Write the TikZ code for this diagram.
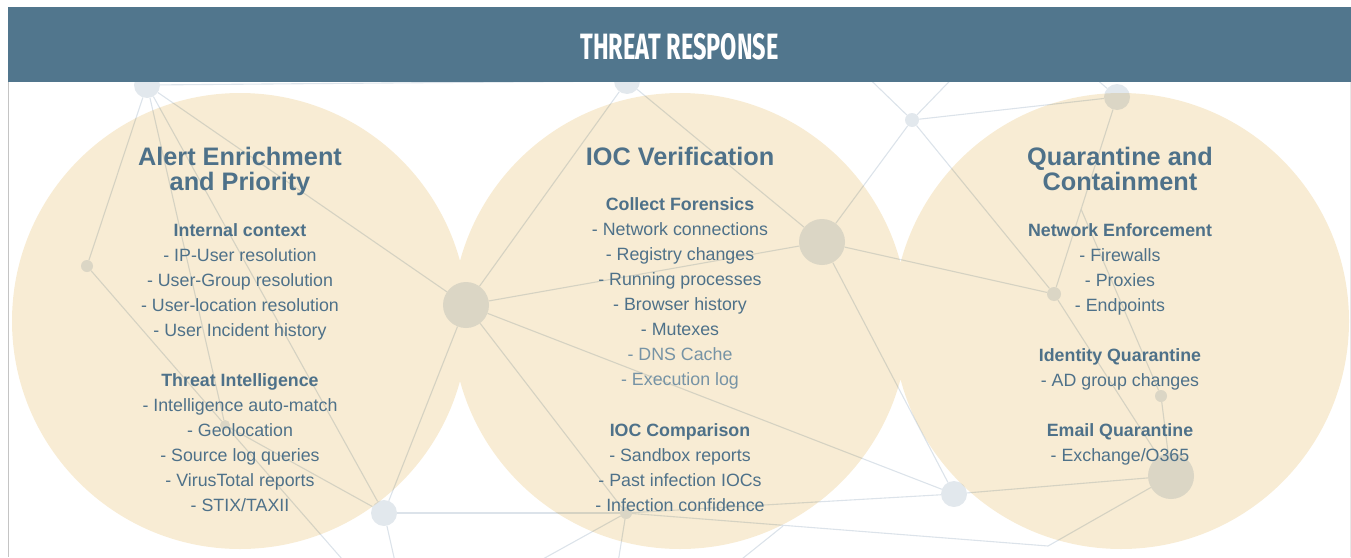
\documentclass[tikz,border=0pt]{standalone}
\usepackage{fontspec}
\setmainfont{Liberation Sans}
\newfontfamily\bannerfont{Fira Sans}
\usepackage{graphicx}
\usetikzlibrary{calc}

\definecolor{banner}{HTML}{51768D}
\definecolor{bubble}{HTML}{F8ECD4}
\definecolor{mesh}{HTML}{DCE3EA}
\definecolor{meshdot}{HTML}{E2E8ED}
\definecolor{ink}{HTML}{4E7189}
\definecolor{inklight}{HTML}{7693A5}
\definecolor{frame}{HTML}{C4C4C4}

\begin{document}
\begin{tikzpicture}[x=1pt, y=-1pt,
    link/.style={mesh, line width=1.1pt},
    hub/.style={circle, fill=meshdot, inner sep=0pt, minimum size=#1},
    head/.style={anchor=base, text=ink, font=\fontsize{25.3}{25}\selectfont\bfseries},
    sub/.style={anchor=base, text=ink, font=\fontsize{17.8}{20}\selectfont\bfseries},
    item/.style={anchor=base, text=ink, font=\fontsize{17.8}{20}\selectfont},
    faded/.style={item, text=inklight}]
    \useasboundingbox (0,0) rectangle (1351,557);

    % Network
    \node[hub=26pt] (n1) at (147,85) {};
    \node[hub=12pt] (n2) at (87,266) {};
    \node[hub=10pt] (n3) at (225,425) {};
    \node[hub=46pt] (n4) at (466,305) {};
    \node[hub=26pt] (n5) at (384,513) {};
    \node[hub=26pt] (n6) at (627,81) {};
    \node[hub=12pt] (n7) at (626,513) {};
    \node[hub=46pt] (n8) at (822,242) {};
    \node[hub=26pt] (n9) at (954,494) {};
    \node[hub=14pt] (n10) at (912,120) {};
    \node[hub=26pt] (n11) at (1117,97) {};
    \node[hub=14pt] (n12) at (1054,294) {};
    \node[hub=12pt] (n13) at (1161,396) {};
    \node[hub=46pt] (n14) at (1171,476) {};
    \coordinate (p1) at (1048,546);
    \coordinate (e1) at (783,526);
    \coordinate (b1) at (356,575);
    \coordinate (b2) at (398,575);
    \coordinate (b3) at (514,575);
    \coordinate (b4) at (616,575);
    \coordinate (b5) at (722,575);
    \coordinate (u1) at (850,60);
    \coordinate (u2) at (970,60);
    \coordinate (u3) at (1080,65);
    \coordinate (q1) at ($(n11)!0.57!(n12)$);

    \draw[link] (n1) -- (n2);
    \draw[link] (n1) -- (n3);
    \draw[link] (n1) -- (n5);
    \draw[link] (n1) -- (n4);
    \draw[link] (n1) -- (n6);
    \draw[link] (n2) -- (n3) -- (b1);
    \draw[link] (n3) -- (n5);
    \draw[link] (n5) -- (n4);
    \draw[link] (n5) -- (n7);
    \draw[link] (n5) -- (b2);
    \draw[link] (n4) -- (n6);
    \draw[link] (n4) -- (n8);
    \draw[link] (n4) -- (n9);
    \draw[link] (n4) -- (n7);
    \draw[link] (n6) -- (n8);
    \draw[link] (n7) -- (n9);
    \draw[link] (n7) -- (p1) -- (n14);
    \draw[link] (n7) -- (b3);
    \draw[link] (n7) -- (b4);
    \draw[link] (b5) -- (e1);
    \draw[link] (n8) -- (n10);
    \draw[link] (n8) -- (n12);
    \draw[link] (n8) -- (n9);
    \draw[link] (n10) -- (n11);
    \draw[link] (n10) -- (n12);
    \draw[link] (n10) -- (u1);
    \draw[link] (n10) -- (u2);
    \draw[link] (n11) -- (n12);
    \draw[link] (n11) -- (u3);
    \draw[link] (q1) -- (n13);
    \draw[link] (n12) -- (n14);
    \draw[link] (n13) -- (n14);
    \draw[link] (n9) -- (n14);

    % Circles
    \begin{scope}[blend mode=multiply]
        \fill[bubble] (240,321) circle[radius=228pt]
                      (680,321) circle[radius=228pt]
                      (1121,321) circle[radius=228pt];
    \end{scope}

    % Frame and header
    \draw[frame] (8,82) -- (8,557);
    \draw[frame!40] (1350,82) -- (1350,557);
    \fill[banner] (8,7) rectangle (1351,82);
    \node[anchor=base, text=white, inner sep=0pt] (title) at (679.5,59.3)
        {\resizebox{198pt}{26pt}{\bannerfont\bfseries THREAT RESPONSE}};

    % Alert Enrichment
    \node[head] (enrich1) at (240,165) {Alert Enrichment};
    \node[head] (enrich2) at (240,190) {and Priority};
    \node[sub] (context) at (240,236) {Internal context};
    \foreach \txt [count=\i] in {IP-User resolution, User-Group resolution,
        User-location resolution, User Incident history}
        \node[item] (ctx\i) at (240,236+25*\i) {- \txt};
    \node[sub] (intel) at (240,386) {Threat Intelligence};
    \foreach \txt [count=\i] in {Intelligence auto-match, Geolocation,
        Source log queries, VirusTotal reports, STIX/TAXII}
        \node[item] (int\i) at (240,386+25*\i) {- \txt};

    % IOC Verification
    \node[head] (verify) at (680,165) {IOC Verification};
    \node[sub] (forensics) at (680,210) {Collect Forensics};
    \foreach \txt [count=\i] in {Network connections, Registry changes,
        Running processes, Browser history, Mutexes}
        \node[item] (for\i) at (680,210+25*\i) {- \txt};
    \node[faded] (for6) at (680,360) {- DNS Cache};
    \node[faded] (for7) at (680,385) {- Execution log};
    \node[sub] (compare) at (680,436) {IOC Comparison};
    \foreach \txt [count=\i] in {Sandbox reports, Past infection IOCs,
        Infection confidence}
        \node[item] (cmp\i) at (680,436+25*\i) {- \txt};

    % Quarantine and Containment
    \node[head] (quar1) at (1120,165) {Quarantine and};
    \node[head] (quar2) at (1120,190) {Containment};
    \node[sub] (netenf) at (1120,236) {Network Enforcement};
    \foreach \txt [count=\i] in {Firewalls, Proxies, Endpoints}
        \node[item] (net\i) at (1120,236+25*\i) {- \txt};
    \node[sub] (identity) at (1120,361) {Identity Quarantine};
    \node[item] (id1) at (1120,386) {- AD group changes};
    \node[sub] (email) at (1120,436) {Email Quarantine};
    \node[item] (em1) at (1120,461) {- Exchange/O365};
\end{tikzpicture}
\end{document}
